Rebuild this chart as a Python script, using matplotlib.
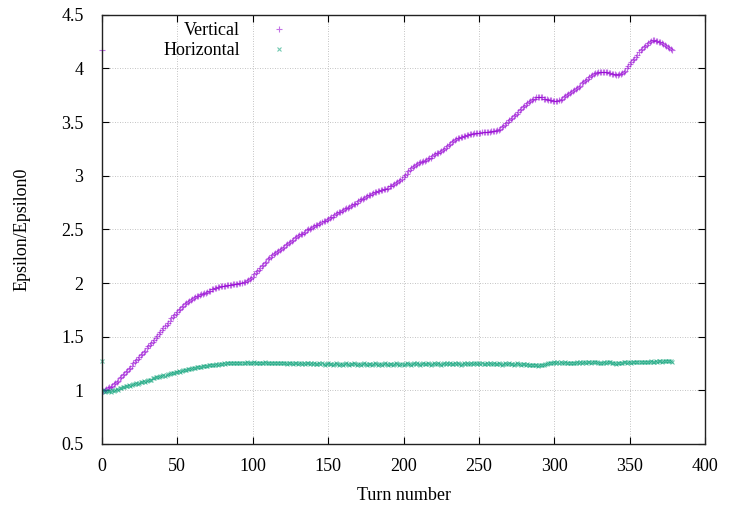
import matplotlib

matplotlib.use("Agg")
import matplotlib.pyplot as plt
import numpy as np

# turn-by-turn emittance ratio (turns 0..378)
vertical = [
    1.00, 0.99, 1.00, 1.01, 1.02, 1.03, 1.03, 1.04, 1.06, 1.07,
    1.08, 1.09, 1.11, 1.12, 1.14, 1.15, 1.17, 1.18, 1.20, 1.21,
    1.23, 1.25, 1.26, 1.28, 1.29, 1.31, 1.33, 1.34, 1.36, 1.37,
    1.39, 1.41, 1.42, 1.44, 1.45, 1.47, 1.49, 1.51, 1.52, 1.54,
    1.56, 1.58, 1.60, 1.61, 1.63, 1.65, 1.67, 1.68, 1.70, 1.71,
    1.73, 1.75, 1.76, 1.78, 1.79, 1.80, 1.81, 1.82, 1.83, 1.84,
    1.85, 1.86, 1.87, 1.88, 1.88, 1.89, 1.90, 1.90, 1.91, 1.91,
    1.92, 1.93, 1.93, 1.94, 1.94, 1.95, 1.95, 1.96, 1.96, 1.97,
    1.97, 1.97, 1.97, 1.98, 1.98, 1.98, 1.98, 1.99, 1.99, 1.99,
    1.99, 2.00, 2.00, 2.00, 2.01, 2.01, 2.02, 2.03, 2.04, 2.05,
    2.06, 2.08, 2.09, 2.11, 2.12, 2.14, 2.16, 2.17, 2.19, 2.20,
    2.22, 2.23, 2.24, 2.26, 2.27, 2.28, 2.29, 2.30, 2.31, 2.32,
    2.33, 2.34, 2.35, 2.36, 2.37, 2.38, 2.39, 2.40, 2.42, 2.43,
    2.44, 2.45, 2.46, 2.46, 2.47, 2.48, 2.49, 2.50, 2.50, 2.51,
    2.52, 2.53, 2.54, 2.54, 2.55, 2.56, 2.57, 2.58, 2.58, 2.59,
    2.60, 2.61, 2.62, 2.62, 2.63, 2.64, 2.65, 2.66, 2.66, 2.67,
    2.68, 2.69, 2.70, 2.70, 2.71, 2.72, 2.73, 2.74, 2.74, 2.75,
    2.76, 2.77, 2.78, 2.78, 2.79, 2.80, 2.81, 2.82, 2.82, 2.83,
    2.84, 2.85, 2.85, 2.86, 2.86, 2.87, 2.87, 2.88, 2.88, 2.88,
    2.89, 2.90, 2.90, 2.91, 2.92, 2.93, 2.94, 2.95, 2.96, 2.97,
    2.99, 3.01, 3.02, 3.04, 3.05, 3.07, 3.08, 3.09, 3.10, 3.11,
    3.12, 3.13, 3.13, 3.14, 3.14, 3.15, 3.16, 3.17, 3.17, 3.18,
    3.19, 3.20, 3.21, 3.21, 3.22, 3.23, 3.24, 3.25, 3.26, 3.28,
    3.29, 3.30, 3.31, 3.32, 3.33, 3.34, 3.35, 3.35, 3.36, 3.36,
    3.37, 3.37, 3.38, 3.38, 3.39, 3.39, 3.39, 3.40, 3.40, 3.40,
    3.40, 3.40, 3.41, 3.41, 3.41, 3.41, 3.41, 3.41, 3.42, 3.42,
    3.42, 3.42, 3.43, 3.43, 3.44, 3.45, 3.46, 3.47, 3.49, 3.50,
    3.52, 3.53, 3.54, 3.56, 3.57, 3.58, 3.59, 3.61, 3.62, 3.64,
    3.65, 3.66, 3.68, 3.69, 3.70, 3.71, 3.72, 3.72, 3.73, 3.73,
    3.73, 3.73, 3.73, 3.72, 3.72, 3.72, 3.71, 3.71, 3.71, 3.70,
    3.70, 3.70, 3.70, 3.71, 3.71, 3.72, 3.73, 3.74, 3.75, 3.76,
    3.77, 3.78, 3.79, 3.80, 3.81, 3.82, 3.83, 3.84, 3.86, 3.87,
    3.88, 3.89, 3.90, 3.92, 3.93, 3.94, 3.95, 3.96, 3.96, 3.97,
    3.97, 3.97, 3.97, 3.97, 3.97, 3.97, 3.96, 3.96, 3.95, 3.95,
    3.95, 3.94, 3.94, 3.95, 3.95, 3.96, 3.97, 3.98, 4.00, 4.02,
    4.04, 4.06, 4.08, 4.09, 4.11, 4.13, 4.15, 4.17, 4.18, 4.20,
    4.21, 4.22, 4.24, 4.25, 4.26, 4.27, 4.27, 4.26, 4.26, 4.25,
    4.25, 4.24, 4.23, 4.22, 4.21, 4.20, 4.19, 4.18, 4.17,
]

horizontal = [
    0.99, 1.00, 0.98, 0.99, 0.99, 0.99, 0.98, 1.00, 0.99, 1.00,
    1.01, 1.00, 1.02, 1.02, 1.03, 1.03, 1.04, 1.04, 1.05, 1.04,
    1.05, 1.06, 1.06, 1.07, 1.06, 1.07, 1.08, 1.08, 1.09, 1.08,
    1.09, 1.10, 1.10, 1.10, 1.11, 1.11, 1.12, 1.12, 1.12, 1.13,
    1.13, 1.14, 1.13, 1.14, 1.15, 1.15, 1.16, 1.16, 1.16, 1.17,
    1.17, 1.18, 1.17, 1.18, 1.19, 1.19, 1.19, 1.20, 1.20, 1.20,
    1.205, 1.21, 1.21, 1.215, 1.22, 1.22, 1.22, 1.225, 1.23, 1.225,
    1.23, 1.235, 1.235, 1.24, 1.235, 1.24, 1.245, 1.24, 1.245, 1.245,
    1.245, 1.25, 1.245, 1.25, 1.25, 1.25, 1.255, 1.25, 1.255, 1.25,
    1.255, 1.25, 1.255, 1.255, 1.25, 1.255, 1.26, 1.255, 1.25, 1.255,
    1.255, 1.26, 1.255, 1.25, 1.255, 1.255, 1.25, 1.255, 1.26, 1.255,
    1.25, 1.255, 1.255, 1.25, 1.255, 1.25, 1.255, 1.25, 1.25, 1.255,
    1.25, 1.255, 1.25, 1.245, 1.25, 1.255, 1.25, 1.245, 1.25, 1.25,
    1.245, 1.25, 1.25, 1.245, 1.25, 1.245, 1.25, 1.25, 1.245, 1.25,
    1.245, 1.25, 1.245, 1.245, 1.25, 1.245, 1.25, 1.245, 1.24, 1.245,
    1.25, 1.245, 1.245, 1.24, 1.245, 1.25, 1.245, 1.24, 1.245, 1.245,
    1.24, 1.245, 1.25, 1.245, 1.24, 1.245, 1.245, 1.25, 1.245, 1.24,
    1.245, 1.245, 1.24, 1.245, 1.25, 1.245, 1.24, 1.245, 1.245, 1.24,
    1.245, 1.25, 1.245, 1.24, 1.245, 1.245, 1.24, 1.245, 1.25, 1.245,
    1.24, 1.245, 1.245, 1.24, 1.245, 1.25, 1.245, 1.24, 1.245, 1.245,
    1.24, 1.245, 1.25, 1.245, 1.245, 1.24, 1.245, 1.25, 1.245, 1.25,
    1.245, 1.24, 1.245, 1.25, 1.245, 1.245, 1.25, 1.245, 1.24, 1.245,
    1.25, 1.245, 1.245, 1.25, 1.245, 1.24, 1.245, 1.25, 1.245, 1.25,
    1.245, 1.25, 1.245, 1.245, 1.25, 1.245, 1.25, 1.245, 1.24, 1.245,
    1.25, 1.245, 1.25, 1.245, 1.245, 1.25, 1.245, 1.25, 1.25, 1.245,
    1.25, 1.245, 1.25, 1.245, 1.245, 1.25, 1.245, 1.25, 1.245, 1.245,
    1.25, 1.245, 1.245, 1.25, 1.245, 1.24, 1.245, 1.25, 1.245, 1.245,
    1.25, 1.245, 1.245, 1.24, 1.245, 1.25, 1.245, 1.245, 1.24, 1.245,
    1.245, 1.24, 1.245, 1.24, 1.24, 1.235, 1.24, 1.235, 1.235, 1.23,
    1.235, 1.235, 1.24, 1.24, 1.245, 1.245, 1.25, 1.255, 1.255, 1.255,
    1.26, 1.255, 1.26, 1.255, 1.26, 1.255, 1.255, 1.26, 1.255, 1.255,
    1.25, 1.255, 1.255, 1.25, 1.255, 1.26, 1.255, 1.26, 1.255, 1.26,
    1.26, 1.255, 1.26, 1.26, 1.255, 1.26, 1.265, 1.26, 1.26, 1.255,
    1.255, 1.25, 1.255, 1.26, 1.255, 1.26, 1.265, 1.26, 1.255, 1.25,
    1.25, 1.245, 1.25, 1.255, 1.25, 1.255, 1.26, 1.26, 1.255, 1.26,
    1.26, 1.255, 1.26, 1.265, 1.26, 1.26, 1.265, 1.26, 1.265, 1.26,
    1.265, 1.265, 1.26, 1.265, 1.27, 1.265, 1.265, 1.27, 1.265, 1.27,
    1.27, 1.265, 1.27, 1.275, 1.27, 1.275, 1.27, 1.27, 1.265,
]

# stray points sitting on turn 0 in the reference (final values wrapped to x=0)
stray_turn = [0]
stray_vertical = [4.17]
stray_horizontal = [1.27]

turns = np.arange(len(vertical))

PURPLE = "#9400d3"
GREEN = "#009e73"

plt.rcParams["font.family"] = ["Liberation Serif", "DejaVu Serif"]
plt.rcParams["font.size"] = 13

fig = plt.figure(figsize=(7.31, 5.12), dpi=100)
ax = fig.add_axes([0.139, 0.133, 0.826, 0.838])

ax.plot(turns, vertical, linestyle="none", marker="+", ms=5, mew=0.8,
        color=PURPLE, alpha=0.55, label="Vertical")
ax.plot(turns, horizontal, linestyle="none", marker="x", ms=3.5, mew=0.8,
        color=GREEN, alpha=0.55, label="Horizontal")
ax.plot(stray_turn, stray_vertical, linestyle="none", marker="+", ms=5, mew=0.8,
        color=PURPLE, alpha=0.55, clip_on=False)
ax.plot(stray_turn, stray_horizontal, linestyle="none", marker="x", ms=3.5, mew=0.8,
        color=GREEN, alpha=0.55, clip_on=False)

ax.set_xlim(0, 400)
ax.set_ylim(0.5, 4.5)
ax.set_xticks(np.arange(0, 401, 50))
ax.set_yticks(np.arange(0.5, 4.51, 0.5))
ax.set_yticklabels(["0.5", "1", "1.5", "2", "2.5", "3", "3.5", "4", "4.5"])
ax.grid(True, color="#b0b0b0", linestyle=(0, (1, 2)), linewidth=0.6)
ax.tick_params(direction="in", length=5, width=0.8, top=True, right=True)
ax.tick_params(axis="x", pad=10)
ax.tick_params(axis="y", pad=13)
for sp in ax.spines.values():
    sp.set_linewidth(1.0)
    sp.set_color("#222222")

ax.set_xlabel("Turn number", labelpad=9)
ax.set_ylabel("Epsilon/Epsilon0", labelpad=22)

# markerfirst=False right-aligns the labels against the marker column (gnuplot style)
ax.legend(loc="upper right", bbox_to_anchor=(293 / 731, 1 - 22 / 512),
          bbox_transform=fig.transFigure, frameon=False, markerfirst=False,
          handlelength=1.5, handletextpad=1.45, labelspacing=0.18,
          borderpad=0, borderaxespad=0, fontsize=13)

fig.savefig("out.png", dpi=100)
